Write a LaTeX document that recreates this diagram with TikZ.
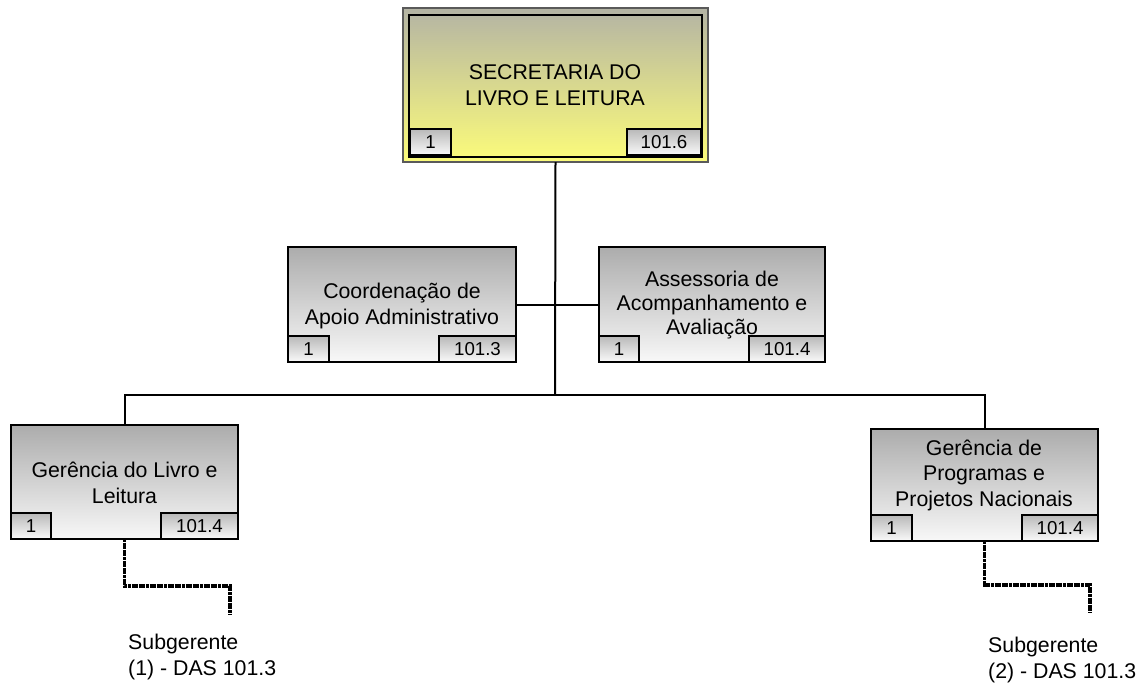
\documentclass[tikz,border=0pt]{standalone}
\usepackage{fontspec}
\setmainfont{Liberation Sans}
\definecolor{secTop}{RGB}{180,180,164}
\definecolor{secBot}{RGB}{252,252,122}
\definecolor{boxTop}{RGB}{172,172,172}
\definecolor{boxBot}{RGB}{248,248,248}
\definecolor{tagTop}{RGB}{185,185,185}
\definecolor{tagBot}{RGB}{250,250,250}
\definecolor{frameGray}{RGB}{90,90,90}
\tikzset{
  unitbox/.style={draw=black, line width=1.5pt, top color=boxTop, bottom color=boxBot,
    minimum width=227pt, inner sep=0pt, outer sep=0pt},
  tagbox/.style={draw=black, line width=1.3pt, top color=tagTop, bottom color=tagBot,
    minimum height=26pt, inner sep=0pt, outer sep=0pt,
    font=\fontsize{18.7}{20}\selectfont},
  boxtext/.style={inner sep=0pt, align=center, font=\fontsize{21.3}{25.5}\selectfont},
  subtext/.style={inner sep=0pt, align=left, anchor=west, font=\fontsize{21.3}{25.5}\selectfont},
  conn/.style={draw=black, line width=2pt},
  dotline/.style={draw=black, line width=3.2pt, dash pattern=on 3pt off 0.6pt}
}
\begin{document}
\begin{tikzpicture}[x=1pt, y=-1pt]
\useasboundingbox (0,0) rectangle (1146,686);
% top box
\node[draw=frameGray, line width=1.2pt, top color=secTop, bottom color=secBot,
      minimum width=305pt, minimum height=154pt, inner sep=0pt, outer sep=0pt] (sec) at (555.5,85) {};
\node[draw=black, line width=1.5pt, minimum width=293pt, minimum height=142pt, inner sep=0pt] (secin) at (555.5,86) {};
\node[boxtext] (sectxt) at (555,85) {SECRETARIA DO\\LIVRO E LEITURA};
\node[tagbox, minimum width=41pt] (secA) at (430.5,142) {1};
\node[tagbox, minimum width=74pt] (secB) at (664,142) {101.6};
% middle boxes
\node[unitbox, minimum width=228pt, minimum height=115pt] (coord) at (402,304.5) {};
\node[boxtext] (coordtxt) at (402,306) {Coordenação de\\Apoio Administrativo};
\node[tagbox, minimum width=41pt] (coordA) at (308.5,349) {1};
\node[tagbox, minimum width=77pt] (coordB) at (477.5,349) {101.3};
\node[unitbox, minimum width=226pt, minimum height=115pt] (assess) at (712,304.5) {};
\node[boxtext, font=\fontsize{21.3}{24}\selectfont] (assesstxt) at (712,305) {Assessoria de\\Acompanhamento e\\Avaliação};
\node[tagbox, minimum width=40pt] (assessA) at (619,349) {1};
\node[tagbox, minimum width=76pt] (assessB) at (787,349) {101.4};
% bottom boxes
\node[unitbox, minimum height=114pt] (gl) at (124.5,482) {};
\node[boxtext] (gltxt) at (124.5,483) {Gerência do Livro e\\Leitura};
\node[tagbox, minimum width=40pt] (glA) at (31,526) {1};
\node[tagbox, minimum width=77pt] (glB) at (199.5,526) {101.4};
\node[unitbox, minimum height=112pt] (gp) at (984.5,485) {};
\node[boxtext] (gptxt) at (984,475) {Gerência de\\Programas e\\Projetos Nacionais};
\node[tagbox, minimum width=41pt] (gpA) at (891.5,528) {1};
\node[tagbox, minimum width=76pt] (gpB) at (1060,528) {101.4};
% connectors
\coordinate (bus) at (555,395);
\draw[conn] (sec.south) -- (bus);
\draw[conn] (coord.east) -- (assess.west);
\draw[conn] (gl.north) |- (bus) -| (gp.north);
% subordinate dotted lines
\coordinate (s1end) at (230,615);
\coordinate (s2end) at (1090,612);
\draw[dotline] (gl.south) -- ++(0,47) -| (s1end);
\draw[dotline] (gp.south) -- ++(0,44) -| (s2end);
\node[subtext] (sub1) at (128,657) {Subgerente\\(1) - DAS 101.3};
\node[subtext] (sub2) at (988,660) {Subgerente\\(2) - DAS 101.3};
\end{tikzpicture}
\end{document}
